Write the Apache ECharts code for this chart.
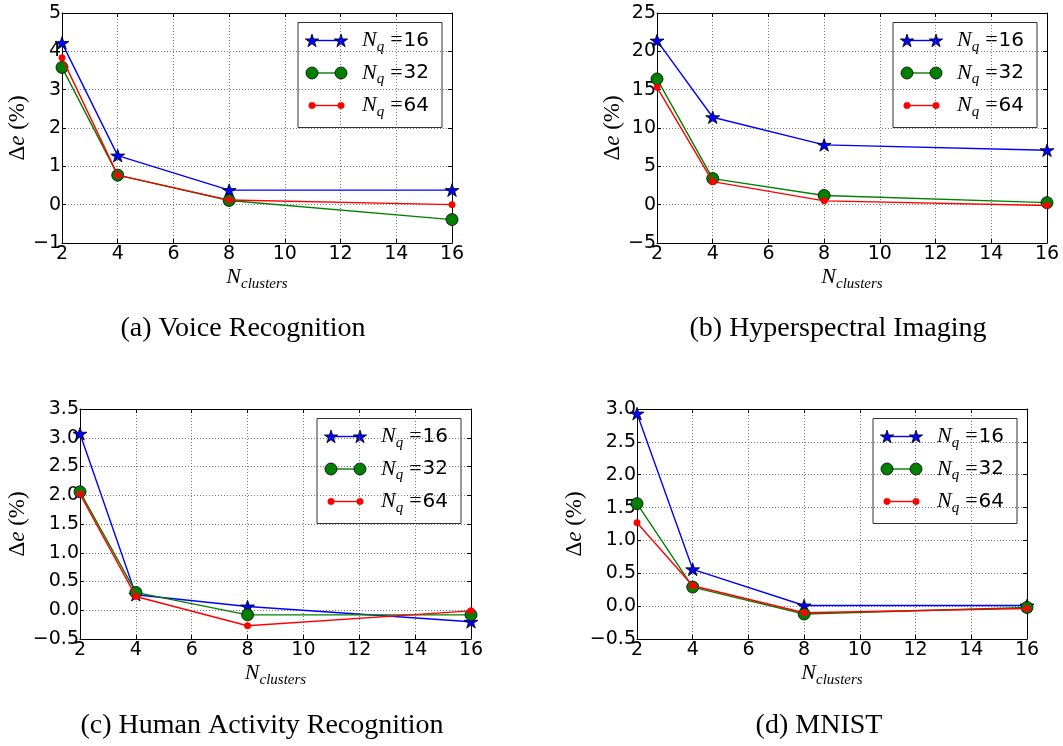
<!DOCTYPE html>
<html>
<head>
<meta charset="utf-8">
<script src="https://cdn.jsdelivr.net/npm/echarts@6/dist/echarts.min.js"></script>
<style>
  html, body { margin: 0; padding: 0; background: #fff; }
  #chart { width: 1063px; height: 746px; }
</style>
</head>
<body>
<div id="chart"></div>
<script>
// Number of clusters on the shared x axis
const clusters = [2, 4, 8, 16];

// Δe (%) per dataset, one array per quantisation level N_q
const voice16 = [4.22, 1.28, 0.38, 0.38];
const voice32 = [3.58, 0.77, 0.11, -0.39];
const voice64 = [3.83, 0.77, 0.12, 0.0];

const hyper16 = [21.4, 11.4, 7.8, 7.1];
const hyper32 = [16.4, 3.4, 1.2, 0.26];
const hyper64 = [15.3, 3.0, 0.5, -0.1];

const har16 = [3.07, 0.27, 0.065, -0.2];
const har32 = [2.06, 0.31, -0.08, -0.08];
const har64 = [2.02, 0.24, -0.27, -0.01];

const mnist16 = [2.93, 0.56, 0.01, 0.01];
const mnist32 = [1.56, 0.29, -0.12, -0.02];
const mnist64 = [1.27, 0.31, -0.1, -0.035];

const quantLevels = ['16', '32', '64'];
const captions = ['(a) Voice Recognition', '(b) Hyperspectral Imaging',
                  '(c) Human Activity Recognition', '(d) MNIST'];

// y ranges of each panel: [min, max, interval, decimals]
const yRanges = [[-1, 5, 1, 0], [-5, 25, 5, 0], [-0.5, 3.5, 0.5, 1], [-0.5, 3.0, 0.5, 1]];

const panelData = [
  [voice16, voice32, voice64],
  [hyper16, hyper32, hyper64],
  [har16, har32, har64],
  [mnist16, mnist32, mnist64]
];

// layout
const grids = [
  { left: 62,  top: 13,  width: 390, height: 230 },
  { left: 657, top: 13,  width: 390, height: 230 },
  { left: 80,  top: 409, width: 391, height: 230 },
  { left: 637, top: 409, width: 390, height: 230 }
];
const yNameGap = [30, 30, 48, 48];
const captionPos = [[243, 329], [838, 329], [262, 726], [819, 726]];

const STAR = 'path://M100 0 L122.45 69.1 L195.1 69.1 L136.3 111.8 L158.8 180.9 L100 138.2 L41.2 180.9 L63.7 111.8 L4.9 69.1 L77.55 69.1 Z';
// unit five-pointed star used for the legend key
const STAR_UNIT = [[0, -1], [0.2245, -0.309], [0.951, -0.309], [0.363, 0.118], [0.588, 0.809],
                   [0, 0.382], [-0.588, 0.809], [-0.363, 0.118], [-0.951, -0.309], [-0.2245, -0.309]];

const styles = [
  { color: '#0000ff', symbol: STAR, size: [14, 13.3], border: '#000', bw: 0.8 },
  { color: '#008000', symbol: 'circle', size: 12, border: '#000', bw: 0.8 },
  { color: '#ff0000', symbol: 'circle', size: 6.5, border: '#ff0000', bw: 0.5 }
];

const SERIF = "'Liberation Serif', 'Times New Roman', serif";
const SANS = "'DejaVu Sans', sans-serif";

function fmt(dec) {
  return function (v) {
    const s = Math.abs(v).toFixed(dec);
    return v < 0 ? '\u2212' + s : s;
  };
}

const xAxes = [], yAxes = [], series = [], graphics = [];

grids.forEach((g, p) => {
  const [ymin, ymax, yint, dec] = yRanges[p];
  // bottom x axis with labels and grid
  xAxes.push({
    type: 'value', gridIndex: p, min: 2, max: 16, interval: 2, position: 'bottom',
    axisLine: { show: true, onZero: false, lineStyle: { color: '#000', width: 1 } },
    axisTick: { show: true, inside: true, length: 4, lineStyle: { color: '#000' } },
    axisLabel: { color: '#000', fontFamily: SANS, fontSize: 19, margin: 2 },
    splitLine: { show: true, lineStyle: { color: '#555', type: [1, 2], width: 0.8 } },
    name: '{n|N}{s|clusters}', nameLocation: 'middle', nameGap: 20,
    nameTextStyle: {
      rich: {
        n: { fontFamily: SERIF, fontStyle: 'italic', fontSize: 22, lineHeight: 29, color: '#000' },
        s: { fontFamily: SERIF, fontStyle: 'italic', fontSize: 15, lineHeight: 15, verticalAlign: 'bottom', color: '#000' }
      }
    }
  });
  // mirrored top axis (frame + ticks)
  xAxes.push({
    type: 'value', gridIndex: p, min: 2, max: 16, interval: 2, position: 'top',
    axisLine: { show: true, onZero: false, lineStyle: { color: '#000', width: 1 } },
    axisTick: { show: true, inside: true, length: 4, lineStyle: { color: '#000' } },
    axisLabel: { show: false }, splitLine: { show: false }
  });
  yAxes.push({
    type: 'value', gridIndex: p, min: ymin, max: ymax, interval: yint, position: 'left',
    axisLine: { show: true, onZero: false, lineStyle: { color: '#000', width: 1 } },
    axisTick: { show: true, inside: true, length: 4, lineStyle: { color: '#000' } },
    axisLabel: { color: '#000', fontFamily: SANS, fontSize: 19, margin: 1, formatter: fmt(dec) },
    splitLine: { show: true, lineStyle: { color: '#555', type: [1, 2], width: 0.8 } },
    name: '{d|\u0394}{e|e}{d| (%)}', nameLocation: 'middle', nameGap: yNameGap[p], nameRotate: 90,
    nameTextStyle: {
      rich: {
        d: { fontFamily: SERIF, fontSize: 23, color: '#000' },
        e: { fontFamily: SERIF, fontStyle: 'italic', fontSize: 23, color: '#000' }
      }
    }
  });
  yAxes.push({
    type: 'value', gridIndex: p, min: ymin, max: ymax, interval: yint, position: 'right',
    axisLine: { show: true, onZero: false, lineStyle: { color: '#000', width: 1 } },
    axisTick: { show: true, inside: true, length: 4, lineStyle: { color: '#000' } },
    axisLabel: { show: false }, splitLine: { show: false }
  });

  panelData[p].forEach((vals, k) => {
    const st = styles[k];
    series.push({
      type: 'line', name: 'N_q=' + quantLevels[k],
      xAxisIndex: p * 2, yAxisIndex: p * 2,
      data: clusters.map((c, i) => [c, vals[i]]),
      symbol: st.symbol, symbolSize: st.size, showSymbol: true, symbolKeepAspect: true,
      lineStyle: { color: st.color, width: 1.4 },
      itemStyle: { color: st.color, borderColor: st.border, borderWidth: st.bw },
      emphasis: { disabled: true },
      clip: false, animation: false, z: 3 + k
    });
  });

  // legend box in the upper right of each panel
  const w = 144, h = 105;
  const lx = g.left + g.width - 10 - w, ly = g.top + 9.5;
  const children = [{
    type: 'rect', shape: { x: 0, y: 0, width: w, height: h },
    style: { fill: '#fff', stroke: '#333', lineWidth: 1 }
  }];
  quantLevels.forEach((q, k) => {
    const st = styles[k];
    const y = 18 + k * 32.5;
    children.push({ type: 'line', shape: { x1: 14, y1: y, x2: 43, y2: y }, style: { stroke: st.color, lineWidth: 1.4 } });
    [14, 43].forEach(cx => {
      if (k === 0) {
        children.push({ type: 'polygon',
          shape: { points: STAR_UNIT.map(pt => [cx + pt[0] * 7, y + 0.6 + pt[1] * 7]) },
          style: { fill: st.color, stroke: '#000', lineWidth: 0.8 } });
      } else {
        children.push({ type: 'circle', shape: { cx: cx, cy: y, r: st.size / 2 },
          style: { fill: st.color, stroke: st.border, lineWidth: st.bw } });
      }
    });
    children.push({
      type: 'text', x: 64, y: y,
      style: {
        text: '{n|N}{q|q}{e|=}{v|' + q + '}',
        verticalAlign: 'middle', align: 'left',
        rich: {
          n: { fontFamily: SERIF, fontStyle: 'italic', fontSize: 22, lineHeight: 28, fill: '#000' },
          q: { fontFamily: SERIF, fontStyle: 'italic', fontSize: 15, lineHeight: 14, verticalAlign: 'bottom', fill: '#000' },
          e: { fontFamily: SERIF, fontSize: 22, padding: [0, 1, 0, 6], fill: '#000' },
          v: { fontFamily: SANS, fontSize: 20, fill: '#000' }
        }
      }
    });
  });
  graphics.push({ type: 'group', x: lx, y: ly, z: 100, children: children });

  graphics.push({
    type: 'text', x: captionPos[p][0], y: captionPos[p][1], z: 100,
    style: { text: captions[p], fontFamily: SERIF, fontSize: 28, fill: '#000', align: 'center', verticalAlign: 'middle' }
  });
});

const chart = echarts.init(document.getElementById('chart'), null, { renderer: 'canvas' });
chart.setOption({
  animation: false,
  backgroundColor: '#fff',
  grid: grids.map(g => Object.assign({ containLabel: false }, g)),
  xAxis: xAxes,
  yAxis: yAxes,
  series: series,
  graphic: graphics
});
</script>
</body>
</html>
